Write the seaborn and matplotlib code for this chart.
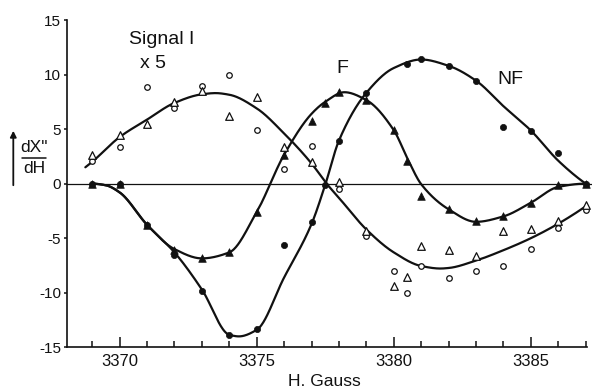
import numpy as np
import pandas as pd
import matplotlib
matplotlib.use("Agg")
import matplotlib.pyplot as plt
import seaborn as sns

# ---------------- data ----------------
G_open = [3369, 3370, 3371, 3372, 3373, 3374, 3375, 3376, 3377, 3378, 3379,
          3380, 3380.5, 3381, 3382, 3383, 3384, 3385, 3386, 3387]
open_circles = [2.05, 3.37, 8.9, 6.95, 8.95, 9.96, 4.95, 1.38, 3.45, -0.46, -4.8,
                -7.98, -10.06, -7.58, -8.65, -8.04, -7.52, -5.98, -4.05, -2.39]
open_triangles = [2.6, 4.44, 5.5, 7.5, 8.5, 6.2, 7.9, 3.4, 2.0, 0.15, -4.3,
                  -9.4, -8.6, -5.68, -6.05, -6.6, -4.3, -4.14, -3.44, -1.93]

G_F = [3369, 3370, 3371, 3372, 3373, 3374, 3375, 3376, 3377, 3377.5, 3378, 3379,
       3380, 3380.5, 3381, 3382, 3383, 3384, 3385, 3386, 3387]
F_points = [0, 0, -3.77, -6.05, -6.8, -6.23, -2.6, 2.65, 5.76, 7.42, 8.43, 7.7,
            4.9, 2.1, -1.1, -2.35, -3.46, -3.0, -1.75, -0.16, -0.05]

G_NF = [3369, 3370, 3371, 3372, 3373, 3374, 3375, 3376, 3377, 3377.5, 3378, 3379,
        3380.5, 3381, 3382, 3383, 3384, 3385, 3386, 3387]
NF_points = [0, 0, -3.77, -6.5, -9.88, -13.9, -13.34, -5.58, -3.5, -0.1, 3.95, 8.33,
             11.0, 11.4, 10.8, 9.44, 5.18, 4.87, 2.82, 0]

# hand-drawn curves: values
sig_curve_G = [3368.75, 3369, 3370, 3371, 3372, 3373, 3373.5, 3374, 3375, 3376, 3377,
               3377.55, 3378, 3379, 3380, 3381, 3381.7, 3382, 3383, 3384, 3385, 3386, 3387]
sig_curve_v = [1.5, 2.0, 4.27, 5.87, 7.4, 8.19, 8.3, 8.15, 6.9, 4.6, 1.85,
               0.0, -1.3, -4.2, -6.3, -7.55, -7.78, -7.73, -7.05, -6.1, -5.0, -3.67, -2.08]

F_curve_G = [3369, 3369.5, 3370, 3371, 3372, 3373, 3374, 3375, 3376, 3377, 3377.5, 3378.2,
             3379, 3380, 3380.5, 3381, 3382, 3383, 3384, 3385, 3386, 3387]
F_curve_v = [0, -0.15, -0.8, -3.77, -6.0, -6.85, -6.3, -2.6, 2.65, 6.4, 7.5, 8.38,
             7.66, 4.9, 2.3, -0.05, -2.35, -3.5, -3.0, -1.75, -0.3, 0]

NF_curve_G = [3369, 3369.5, 3370, 3371, 3372, 3373, 3374, 3374.35, 3375, 3376, 3377,
              3377.5, 3378, 3379, 3380, 3381, 3382, 3383, 3384, 3385, 3386, 3387]
NF_curve_v = [0, -0.15, -0.8, -3.77, -6.3, -9.7, -13.85, -14.0, -13.4, -8.6, -3.7,
              -0.1, 3.95, 8.33, 10.6, 11.38, 10.8, 9.44, 7.1, 4.87, 2.1, 0]

x_ticks = [3370, 3375, 3380, 3385]
y_ticks = [-15, -10, -5, 0, 5, 10, 15]


def smooth(xp, yp, per_unit=40):
    """shape-preserving (PCHIP) cubic through the read curve points, for drawing"""
    x = np.asarray(xp, float)
    y = np.asarray(yp, float)
    h = np.diff(x)
    delta = np.diff(y) / h
    m = len(x)
    d = np.zeros(m)
    for k in range(1, m - 1):
        if delta[k - 1] * delta[k] <= 0:
            d[k] = 0.0
        else:
            w1 = 2 * h[k] + h[k - 1]
            w2 = h[k] + 2 * h[k - 1]
            d[k] = (w1 + w2) / (w1 / delta[k - 1] + w2 / delta[k])

    def end(h0, h1, d0, d1):
        v = ((2 * h0 + h1) * d0 - h0 * d1) / (h0 + h1)
        if np.sign(v) != np.sign(d0):
            v = 0.0
        elif np.sign(d0) != np.sign(d1) and abs(v) > abs(3 * d0):
            v = 3 * d0
        return v

    d[0] = end(h[0], h[1], delta[0], delta[1])
    d[-1] = end(h[-1], h[-2], delta[-1], delta[-2])
    n = int((x[-1] - x[0]) * per_unit) + 2
    xs = np.linspace(x[0], x[-1], n)
    idx = np.clip(np.searchsorted(x, xs) - 1, 0, m - 2)
    t = (xs - x[idx]) / h[idx]
    h00 = 2 * t ** 3 - 3 * t ** 2 + 1
    h10 = t ** 3 - 2 * t ** 2 + t
    h01 = -2 * t ** 3 + 3 * t ** 2
    h11 = t ** 3 - t ** 2
    ys = h00 * y[idx] + h10 * h[idx] * d[idx] + h01 * y[idx + 1] + h11 * h[idx] * d[idx + 1]
    return xs, ys


sns.set_style("ticks")
plt.rcParams["font.family"] = ["Liberation Sans", "DejaVu Sans"]

fig = plt.figure(figsize=(5.92, 3.89), dpi=100)
ax = fig.add_axes([66.7 / 592, 1 - 347.3 / 389, (592 - 66.7) / 592, (347.3 - 20) / 389])

ink = "#111111"

# curves
for cg, cv in [(sig_curve_G, sig_curve_v), (F_curve_G, F_curve_v), (NF_curve_G, NF_curve_v)]:
    xs, ys = smooth(cg, cv)
    sns.lineplot(x=xs, y=ys, ax=ax, color=ink, lw=1.6, sort=False, estimator=None, zorder=2)

ax.axhline(0, color=ink, lw=0.9, zorder=1)

# markers
sns.scatterplot(x=G_open, y=open_circles, ax=ax, marker="o", s=16, facecolor="white",
                edgecolor=ink, linewidth=0.9, zorder=4)
sns.scatterplot(x=G_open, y=open_triangles, ax=ax, marker="^", s=30, facecolor="white",
                edgecolor=ink, linewidth=0.9, zorder=4)
sns.scatterplot(x=G_F, y=F_points, ax=ax, marker="^", s=30, color=ink, edgecolor=ink,
                linewidth=0.5, zorder=5)
sns.scatterplot(x=G_NF, y=NF_points, ax=ax, marker="o", s=20, color=ink, edgecolor=ink,
                linewidth=0.5, zorder=5)

ax.set_xlim(3368.07, 3387.23)
ax.set_ylim(-15, 15)
ax.set_xticks(x_ticks)
ax.set_xticks(np.arange(3369, 3388, 1), minor=True)
ax.set_yticks(y_ticks)
ax.set_yticklabels([str(t) for t in y_ticks])
ax.tick_params(axis="x", which="major", direction="in", length=7.5, width=1.1,
               labelsize=12, pad=5, colors=ink)
ax.tick_params(axis="x", which="minor", direction="in", length=4, width=1.1, colors=ink)
ax.tick_params(axis="y", direction="out", length=2.5, width=1.1, labelsize=11, pad=1.5,
               colors=ink)
for s in ["top", "right"]:
    ax.spines[s].set_visible(False)
for s in ["left", "bottom"]:
    ax.spines[s].set_linewidth(1.2)
    ax.spines[s].set_color(ink)
ax.spines["bottom"].set_bounds(3368.07, 3387.05)
ax.set_xlabel("")
ax.set_ylabel("")

# annotations
ax.text(3371.54, 13.2, "Signal I", fontsize=14, ha="center", va="center", color=ink)
ax.text(3371.21, 10.97, "x 5", fontsize=14, ha="center", va="center", color=ink)
ax.text(3378.11, 10.57, "F", fontsize=14, ha="center", va="center", color=ink)
ax.text(3384.27, 9.56, "NF", fontsize=14, ha="center", va="center", color=ink)

# x label
fig.text(324 / 592, 1 - 381 / 389, "H. Gauss", fontsize=12.5, ha="center", va="center",
         color=ink)

# y label: arrow + fraction dX''/dH
ax.annotate("", xy=(13.3 / 592, 1 - 128 / 389), xytext=(13.3 / 592, 1 - 188 / 389),
            xycoords="figure fraction", textcoords="figure fraction",
            arrowprops=dict(arrowstyle="-|>", color=ink, lw=1.3, mutation_scale=9))
fig.text(34 / 592, 1 - 148 / 389, 'dX"', fontsize=12.5, ha="center", va="center",
         color=ink)
fig.text(34 / 592, 1 - 169 / 389, "dH", fontsize=12.5, ha="center", va="center",
         color=ink)
fig.add_artist(plt.Line2D([22 / 592, 46 / 592], [1 - 158 / 389, 1 - 158 / 389],
                          color=ink, lw=1.1, transform=fig.transFigure))

fig.savefig("out.png", dpi=100)
